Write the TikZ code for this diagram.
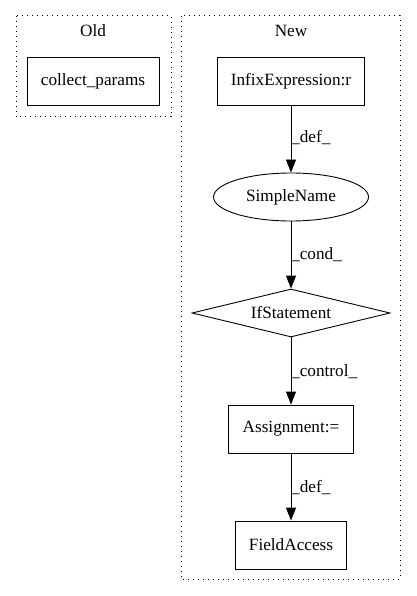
\documentclass[tikz,border=0pt]{standalone}
\usepackage{fontspec}
\setmainfont{Liberation Serif}
\usetikzlibrary{shapes.geometric,arrows.meta}
\begin{document}
\begin{tikzpicture}[x=1pt,y=-1pt,
  every node/.style={font=\fontsize{17.2}{20}\selectfont},
  box/.style={draw,line width=0.9pt,rectangle,inner sep=0pt},
  cluster/.style={draw,line width=1pt,dash pattern=on 1.3pt off 3.7pt},
  edge/.style={draw,line width=0.9pt,-{Triangle[length=13pt,width=10pt]}},
  elabel/.style={anchor=west,inner sep=0pt}]
\useasboundingbox (0,0) rectangle (416,596);
% clusters
\draw[cluster] (16,16) rectangle (171,117);
\node (oldlbl) at (93,31) {Old};
\draw[cluster] (181,16) rectangle (400,579);
\node (newlbl) at (291,31) {New};
% nodes
\node[box,minimum width=132pt,minimum height=48pt] (cp) at (93,81) {collect\_params};
\node[box,minimum width=147pt,minimum height=48pt] (inf) at (291,81) {InfixExpression:r};
\node[draw,ellipse,line width=0.9pt,minimum width=155pt,minimum height=48pt,inner sep=0pt] (sn) at (291,197) {SimpleName};
\node[draw,diamond,aspect=4.1,line width=0.9pt,minimum width=198pt,minimum height=48pt,inner sep=0pt] (if) at (291,313) {IfStatement};
\node[box,minimum width=125pt,minimum height=48pt] (as) at (291,429) {Assignment:=};
\node[box,minimum width=111pt,minimum height=48pt] (fa) at (291,545) {FieldAccess};
% edges
\draw[edge] (inf) -- (sn);
\draw[edge] (sn) -- (if);
\draw[edge] (if) -- (as);
\draw[edge] (as) -- (fa);
% labels
\node[elabel] (l1) at (291,138) {\_def\_};
\node[elabel] (l2) at (291,255) {\_cond\_};
\node[elabel] (l3) at (291,372) {\_control\_};
\node[elabel] (l4) at (291,488) {\_def\_};
\end{tikzpicture}
\end{document}
